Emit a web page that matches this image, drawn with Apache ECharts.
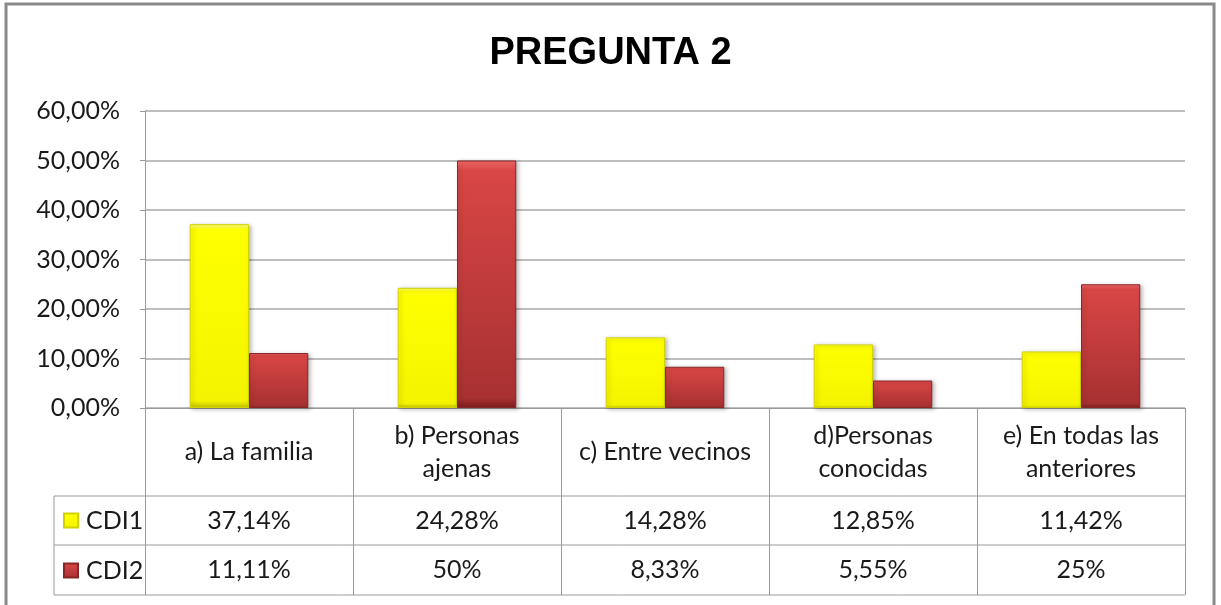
<!DOCTYPE html>
<html>
<head>
<meta charset="utf-8">
<script src="https://cdn.jsdelivr.net/npm/echarts@6/dist/echarts.min.js"></script>
<style>
  html, body { margin: 0; padding: 0; background: #fff; }
  #chart { width: 1221px; height: 605px; }
</style>
</head>
<body>
<div id="chart"></div>
<script>
// data
const categories = ['a) La familia', 'b) Personas\najenas', 'c) Entre vecinos', 'd)Personas\nconocidas', 'e) En todas las\nanteriores'];
const seriesNames = ['CDI1', 'CDI2'];
const cdi1 = [37.14, 24.28, 14.28, 12.85, 11.42];
const cdi2 = [11.11, 50, 8.33, 5.55, 25];
const cdi1Labels = ['37,14%', '24,28%', '14,28%', '12,85%', '11,42%'];
const cdi2Labels = ['11,11%', '50%', '8,33%', '5,55%', '25%'];

// layout of the plot + data table
const W = 1221, H = 605;
const gridLeft = 145, gridRight = 1185, gridTop = 111, gridBottom = 408;
const headerBottom = 496, row1Bottom = 545, row2Bottom = 595;
const tableLeft = 54;
const lineColor = '#9a9a9a';
const font = 'Lato';
const fontSize = 25;
const textColor = '#1a1a1a';

const yellow = {
  type: 'linear', x: 0, y: 0, x2: 0, y2: 1,
  colorStops: [
    { offset: 0, color: '#ffff90' },
    { offset: 0.03, color: '#ffff00' },
    { offset: 0.96, color: '#f4f400' },
    { offset: 1, color: '#c4c400' }
  ]
};
const red = {
  type: 'linear', x: 0, y: 0, x2: 0, y2: 1,
  colorStops: [
    { offset: 0, color: '#f26a6a' },
    { offset: 0.04, color: '#d94646' },
    { offset: 0.96, color: '#a83131' },
    { offset: 1, color: '#7c2020' }
  ]
};

const chart = echarts.init(document.getElementById('chart'));

const hLine = (y) => ({
  type: 'line', silent: true,
  shape: { x1: tableLeft, y1: y, x2: gridRight, y2: y },
  style: { stroke: lineColor, lineWidth: 1 }
});

const option = {
  backgroundColor: '#fff',
  animation: false,
  title: {
    text: 'PREGUNTA 2',
    left: 'center',
    top: 30,
    textStyle: { fontFamily: 'Liberation Sans', fontSize: 38, fontWeight: 'bold', color: '#000' }
  },
  legend: {
    orient: 'vertical',
    left: 63,
    top: 508,
    padding: 0,
    itemWidth: 14,
    itemHeight: 14,
    itemGap: 25,
    icon: 'rect',
    data: seriesNames,
    textStyle: { fontFamily: font, fontSize: fontSize, color: textColor, padding: [0, 0, 0, 3] }
  },
  grid: {
    left: gridLeft, right: W - gridRight, top: gridTop, bottom: H - gridBottom,
    outerBoundsMode: 'none'
  },
  xAxis: [
    {
      type: 'category',
      data: categories,
      axisLine: { show: true, lineStyle: { color: lineColor } },
      axisTick: { show: true, length: row2Bottom - gridBottom, lineStyle: { color: lineColor } },
      axisLabel: {
        interval: 0, margin: (headerBottom - gridBottom) / 2, verticalAlign: 'middle',
        fontFamily: font, fontSize: fontSize, lineHeight: 33, color: textColor, align: 'center'
      }
    },
    {
      type: 'category',
      data: cdi1Labels,
      position: 'bottom',
      axisLine: { show: false },
      axisTick: { show: false },
      axisLabel: {
        interval: 0, margin: (headerBottom + row1Bottom) / 2 - gridBottom, verticalAlign: 'middle',
        fontFamily: font, fontSize: fontSize, color: textColor
      }
    },
    {
      type: 'category',
      data: cdi2Labels,
      position: 'bottom',
      axisLine: { show: false },
      axisTick: { show: false },
      axisLabel: {
        interval: 0, margin: (row1Bottom + row2Bottom) / 2 - gridBottom, verticalAlign: 'middle',
        fontFamily: font, fontSize: fontSize, color: textColor
      }
    }
  ],
  yAxis: {
    type: 'value',
    min: 0, max: 60, interval: 10,
    axisLine: { show: true, lineStyle: { color: lineColor } },
    axisTick: { show: true, length: 5, lineStyle: { color: lineColor } },
    splitLine: { show: true, lineStyle: { color: '#a8a8a8', width: 1.5 } },
    axisLabel: {
      margin: 25,
      fontFamily: font, fontSize: fontSize, color: textColor,
      formatter: (v) => v.toFixed(2).replace('.', ',') + '%'
    }
  },
  series: [
    {
      name: seriesNames[0], type: 'bar', data: cdi1,
      barGap: '0%', barCategoryGap: '43%',
      itemStyle: {
        color: yellow, borderColor: '#d2d200', borderWidth: 1,
        shadowBlur: 4, shadowColor: 'rgba(0,0,0,0.25)', shadowOffsetX: 2, shadowOffsetY: 1
      }
    },
    {
      name: seriesNames[1], type: 'bar', data: cdi2,
      itemStyle: {
        color: red, borderColor: '#8a2626', borderWidth: 1,
        shadowBlur: 4, shadowColor: 'rgba(0,0,0,0.25)', shadowOffsetX: 2, shadowOffsetY: 1
      }
    }
  ],
  graphic: [
    {
      type: 'rect', silent: true, z: -1,
      shape: { x: 6, y: 4, width: 1208, height: 640 },
      style: { fill: null, stroke: '#8a8a8a', lineWidth: 3 }
    },
    hLine(headerBottom),
    hLine(row1Bottom),
    hLine(row2Bottom),
    {
      type: 'line', silent: true,
      shape: { x1: tableLeft, y1: headerBottom, x2: tableLeft, y2: row2Bottom },
      style: { stroke: lineColor, lineWidth: 1 }
    }
  ]
};

chart.setOption(option);
</script>
</body>
</html>
